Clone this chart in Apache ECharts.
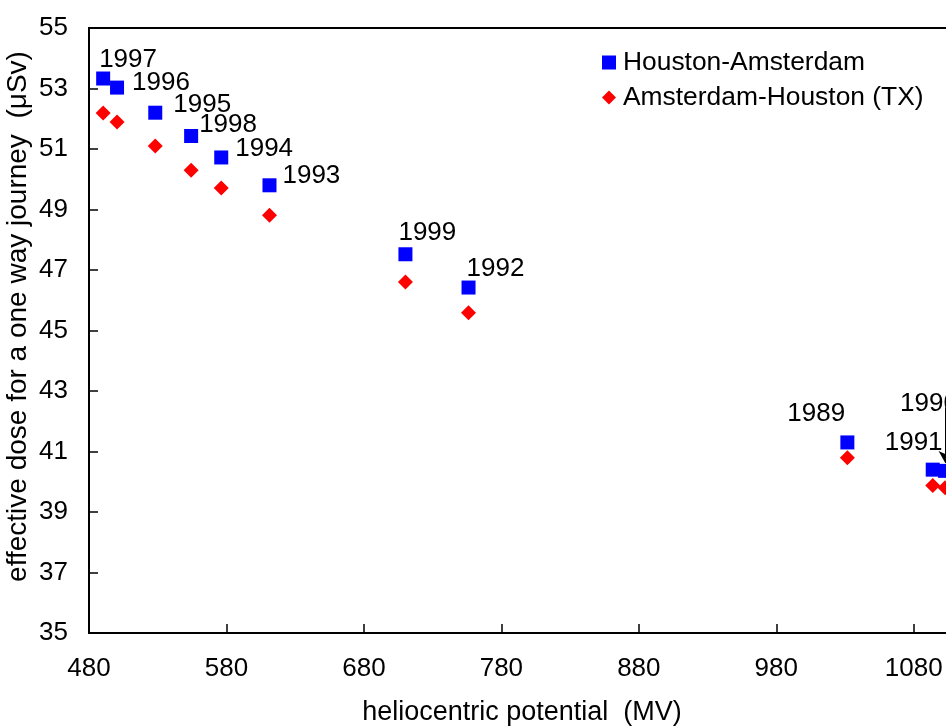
<!DOCTYPE html>
<html>
<head>
<meta charset="utf-8">
<script src="https://cdn.jsdelivr.net/npm/echarts@6/dist/echarts.min.js"></script>
<style>
  html, body { margin: 0; padding: 0; background: #fff; }
  #chart { width: 946px; height: 726px; }
</style>
</head>
<body>
<div id="chart"></div>
<script>
// ---- data ----
var years      = ['1989', '1990', '1991', '1992', '1993', '1994', '1995', '1996', '1997', '1998', '1999'];
var potential  = [1031.7, 1102.8, 1093.8, 756.1, 611.3, 576.2, 528.2, 500.4, 490.3, 554.3, 710.2];
var doseHouAms = [41.30, 40.36, 40.40, 46.42, 49.80, 50.72, 52.20, 53.03, 53.33, 51.43, 47.52];
var doseAmsHou = [40.79, 39.80, 39.88, 45.59, 48.81, 49.71, 51.10, 51.89, 52.19, 50.30, 46.60];
var xTicks = { min: 480, max: 1110, interval: 100 };
var yTicks = { min: 35, max: 55, interval: 2 };
var seriesNames = ['Houston-Amsterdam', 'Amsterdam-Houston (TX)'];
// label offsets (pixels) of year labels relative to each blue marker: [dx, dy]
var labelOffsets = [[-60, -29], [-45, -67], [-48, -27], [-2, -19], [13, -9], [14, -9], [18, -8], [15, -5], [-4, -19], [8, -11], [-7, -21]];
// arrow for 1990 label
var arrow1990 = { x: 1102.9, yFrom: 42.46, yTo: 40.62 };

var FONT = 'Liberation Sans, Arial, sans-serif';

var blueData = years.map(function (yr, i) {
  return {
    value: [potential[i], doseHouAms[i]],
    name: yr,
    label: {
      show: true,
      formatter: yr,
      position: 'inside',
      align: 'left',
      verticalAlign: 'middle',
      offset: labelOffsets[i],
      color: '#000',
      fontSize: 26,
      fontFamily: FONT
    }
  };
});
var redData = years.map(function (yr, i) { return [potential[i], doseAmsHou[i]]; });

var chart = echarts.init(document.getElementById('chart'), null, { renderer: 'canvas' });
chart.setOption({
  animation: false,
  backgroundColor: '#fff',
  grid: {
    left: 89, top: 28, width: 866, height: 605,
    outerBoundsMode: 'none',
    containLabel: false,
    show: true, borderColor: '#000', borderWidth: 2, backgroundColor: 'transparent'
  },
  legend: {
    orient: 'vertical',
    left: 597, top: 44,
    itemWidth: 14, itemHeight: 14, itemGap: 8,
    textStyle: { fontSize: 26.4, fontFamily: FONT, color: '#000', lineHeight: 27, padding: [0, 0, 0, 2] },
    itemStyle: { opacity: 1 },
    data: [
      { name: seriesNames[0], icon: 'rect' },
      { name: seriesNames[1], icon: 'diamond' }
    ]
  },
  xAxis: {
    type: 'value',
    min: xTicks.min, max: xTicks.max, interval: xTicks.interval,
    name: 'heliocentric potential  (MV)',
    nameLocation: 'middle', nameGap: 66, nameMoveOverlap: false,
    nameTextStyle: { fontSize: 27, fontFamily: FONT, color: '#000' },
    axisLine: { show: true, lineStyle: { color: '#000', width: 2 } },
    axisTick: { show: true, inside: true, length: 9, lineStyle: { color: '#000', width: 1.5 } },
    axisLabel: { fontSize: 26, fontFamily: FONT, color: '#000', margin: 23, showMaxLabel: false,
                 formatter: function (v) { return String(v); } },
    splitLine: { show: false }
  },
  yAxis: {
    type: 'value',
    min: yTicks.min, max: yTicks.max, interval: yTicks.interval,
    name: 'effective dose for a one way journey  (\u03bcSv)',
    nameLocation: 'middle', nameGap: 57, nameRotate: 90, nameMoveOverlap: false,
    nameTextStyle: { fontSize: 28, fontFamily: FONT, color: '#000', padding: [0, 0, 0, 28] },
    axisLine: { show: true, lineStyle: { color: '#000', width: 2 } },
    axisTick: { show: true, inside: true, length: 9, lineStyle: { color: '#000', width: 1.5 } },
    axisLabel: { fontSize: 26, fontFamily: FONT, color: '#000', margin: 21,
                 formatter: function (v) { return String(v); } },
    splitLine: { show: false }
  },
  series: [
    {
      name: seriesNames[0],
      type: 'scatter',
      symbol: 'rect',
      symbolSize: 14,
      itemStyle: { color: '#0000ff', opacity: 1 },
      data: blueData,
      z: 3,
      markLine: {
        silent: true,
        symbol: ['none', 'arrow'],
        symbolSize: [10, 12],
        label: { show: false },
        lineStyle: { color: '#000', width: 1, type: 'solid', opacity: 1 },
        data: [[{ coord: [arrow1990.x, arrow1990.yFrom] }, { coord: [arrow1990.x, arrow1990.yTo] }]]
      }
    },
    {
      name: seriesNames[1],
      type: 'scatter',
      symbol: 'diamond',
      symbolSize: 15,
      itemStyle: { color: '#ff0000', opacity: 1 },
      data: redData,
      z: 2
    }
  ]
});
</script>
</body>
</html>
